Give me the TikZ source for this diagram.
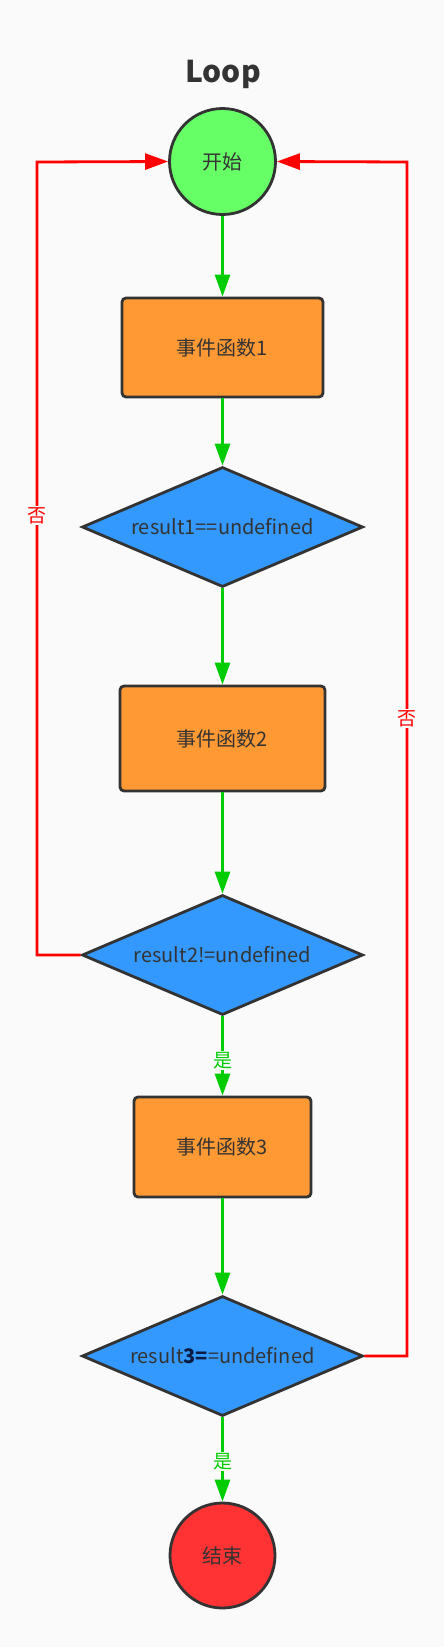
\documentclass[tikz,border=0pt]{standalone}
\usepackage{fontspec}
\setmainfont{Noto Sans CJK SC}
\usetikzlibrary{shapes.geometric,arrows.meta}
\definecolor{bg}{HTML}{FAFAFA}
\definecolor{stroke}{HTML}{333333}
\definecolor{startc}{HTML}{66FF66}
\definecolor{procc}{HTML}{FF9933}
\definecolor{decc}{HTML}{3399FF}
\definecolor{endc}{HTML}{FF3333}
\definecolor{yesc}{HTML}{00CC00}
\definecolor{noc}{HTML}{FF0000}
\definecolor{navy}{HTML}{0A1A40}
\begin{document}
\begin{tikzpicture}[x=1pt,y=-1pt,
  base/.style={draw=stroke,line width=2.8pt,text=stroke,font=\fontsize{20}{24}\selectfont,inner sep=0pt},
  term/.style={base,circle,minimum size=106pt},
  proc/.style={base,rectangle,rounded corners=4pt},
  dec/.style={base,diamond,aspect=2.34,minimum width=281pt,minimum height=120pt},
  yes/.style={draw=yesc,line width=2.8pt,-{Triangle[length=22pt,width=15pt]}},
  no/.style={draw=noc,line width=2.8pt,-{Triangle[length=23pt,width=16pt]}},
  yeslab/.style={fill=bg,text=yesc,font=\fontsize{19}{22}\selectfont,inner sep=1pt},
  nolab/.style={fill=bg,text=noc,font=\fontsize{19}{22}\selectfont,inner sep=1pt}]
\fill[bg] (0,0) rectangle (444,1647);
\useasboundingbox (0,0) rectangle (444,1647);
\node[text=stroke,font=\bfseries\fontsize{30}{34}\selectfont] (title) at (223,74) {Loop};
\node[term,fill=startc] (start) at (222.5,161.5) {开始};
\node[proc,fill=procc,minimum width=201pt,minimum height=99pt] (b1) at (222.5,347.5) {事件函数1};
\node[dec,fill=decc] (d1) at (222.5,527) {result1==undefined};
\node[proc,fill=procc,minimum width=205pt,minimum height=105pt] (b2) at (222.5,738.5) {事件函数2};
\node[dec,fill=decc] (d2) at (222.5,955) {result2!=undefined};
\node[proc,fill=procc,minimum width=177pt,minimum height=100pt] (b3) at (222.5,1147) {事件函数3};
\node[dec,fill=decc] (d3) at (222.5,1356) {result{\bfseries\color{navy}3=}=undefined};
\node[term,fill=endc,minimum size=105pt] (end) at (222.5,1555.5) {结束};
\coordinate (lc) at (37,162);
\coordinate (rc) at (407,162);
\draw[yes] (start) -- (b1);
\draw[yes] (b1) -- (d1);
\draw[yes] (d1) -- (b2);
\draw[yes] (b2) -- (d2);
\draw[yes] (d2) -- node[yeslab,pos=0.56]{是} (b3);
\draw[yes] (b3) -- (d3);
\draw[yes] (d3) -- node[yeslab,pos=0.52]{是} (end);
\draw[no] (d2.west) -- (d2.west -| lc) -- node[nolab,pos=0.554]{否} (lc) -- (start.west);
\draw[no] (d3.east) -- (d3.east -| rc) -- node[nolab,pos=0.534]{否} (rc) -- (start.east);
\end{tikzpicture}
\end{document}
